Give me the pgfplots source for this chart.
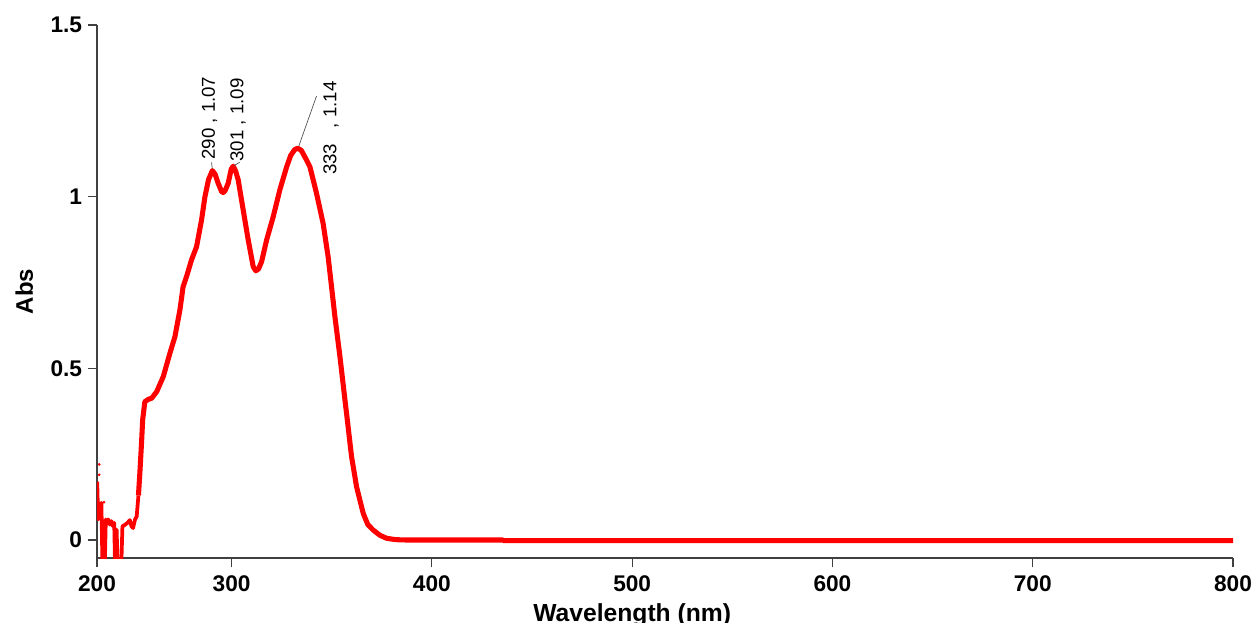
\documentclass[border=0pt]{standalone}
\usepackage{fontspec}
\setmainfont{Liberation Sans}
\usepackage{pgfplots}
\pgfplotsset{compat=1.18}

\definecolor{axisgray}{HTML}{404040}

\begin{document}
\begin{tikzpicture}
  \begin{axis}[
    name=ax,
    scale only axis,
    width=852pt, height=399.75pt,
    xmin=232.8, xmax=800,
    ymin=-0.0524, ymax=1.5,
    axis lines=left,
    axis line style={-, axisgray, line width=0.8pt},
    tick align=outside,
    major tick length=7pt,
    tick style={axisgray, line width=0.8pt},
    xtick={232.8,300,400,500,600,700,800},
    xticklabels={200,300,400,500,600,700,800},
    ytick={0,0.5,1,1.5},
    yticklabels={0,0.5,1,1.5},
    /pgf/number format/assume math mode=true,
    ticklabel style={font=\fontsize{17}{20}\selectfont\bfseries},
    xticklabel style={inner sep=0pt, yshift=-6pt},
    yticklabel style={inner sep=0pt, xshift=-4pt},
    xlabel={Wavelength (nm)},
    xlabel style={at={(rel axis cs:0.4711,0)}, anchor=base, yshift=-47.25pt,
      font=\fontsize{18.5}{22}\selectfont\bfseries},
    ylabel={Abs},
    ylabel style={at={(rel axis cs:-0.0639,0.5)}, anchor=center, rotate=0,
      font=\fontsize{18}{22}\selectfont\bfseries},
  ]
    % noisy start of the spectrum
    \addplot[red, line width=2.8pt, line join=round] coordinates {
      (232.9,0.17) (233.4,0.06) (234.0,0.10) (235.0,0.108) (235.6,-0.1)
      (236.6,-0.1) (237.2,0.06) (237.8,0.05) (238.4,0.06) (239.2,0.045)
      (240.0,0.055) (240.8,0.04) (241.4,0.05) (241.9,-0.1) (242.6,0.03)
      (243.2,-0.1) (244.8,-0.1) (245.5,0.04) (246.7,0.044) (248.0,0.05)
      (249.2,0.058) (250.0,0.04) (250.8,0.035) (251.8,0.06) (252.6,0.068)
      (253.5,0.13)
    };
    \addplot[red, only marks, mark=*, mark size=0.8pt] coordinates {
      (233.9,0.22) (233.9,0.19) (236.3,0.11)
    };
    % main band
    \addplot[red, line width=3.8pt, line join=round] coordinates {
      (253.5,0.13) (254.2,0.195) (255.1,0.29) (255.6,0.35) (256.7,0.403)
      (258.5,0.41) (260.1,0.413) (262.6,0.432) (265.9,0.476) (269.2,0.544)
      (271.7,0.592) (274.2,0.670) (275.8,0.738) (277.5,0.767) (280.0,0.816)
      (282.5,0.854) (285.0,0.932) (286.7,1.0) (288.5,1.05) (290.4,1.076)
      (291.8,1.065) (293.3,1.039) (295.0,1.015) (295.8,1.012) (296.8,1.018)
      (298.3,1.039) (299.8,1.08) (300.8,1.089) (302.0,1.075) (303.3,1.049)
      (305.8,0.961) (308.3,0.874) (310.8,0.796) (312.1,0.784) (313.5,0.79)
      (315.0,0.811) (317.5,0.874) (320.8,0.942) (324.1,1.020) (327.5,1.087)
      (329.5,1.12) (331.5,1.137) (333.0,1.141) (334.8,1.135) (337.4,1.107)
      (339.1,1.087) (342.4,1.010) (345.7,0.922) (348.2,0.825) (349.9,0.738)
      (351.6,0.650) (354.1,0.534) (356.6,0.408) (357.4,0.369) (359.9,0.243)
      (362.4,0.155) (365.7,0.078) (368.0,0.045) (370.7,0.029) (374.0,0.014)
      (377.4,0.005) (382.0,0.001) (387.4,0.0) (435.5,0.0) (435.6,-0.002)
      (800,-0.002)
    };
    % peak labels
    \draw[gray!60!black, line width=0.5pt] (axis cs:290.4,1.08) -- (axis cs:290.0,1.10);
    \draw[gray!60!black, line width=0.5pt] (axis cs:301.2,1.09) -- (axis cs:304.0,1.10);
    \draw[gray!60!black, line width=0.5pt] (axis cs:333.6,1.148) -- (axis cs:342.4,1.293);
    \node[rotate=90, anchor=base west, inner sep=0pt, font=\fontsize{14}{16}\selectfont]
      at (axis cs:291.7,1.107) {290 , 1.07};
    \node[rotate=90, anchor=base west, inner sep=0pt, font=\fontsize{14}{16}\selectfont]
      at (axis cs:305.9,1.102) {301 , 1.09};
    \node[rotate=90, anchor=base west, inner sep=0pt, font=\fontsize{14}{16}\selectfont]
      at (axis cs:352.3,1.063) {333\ \ \ , 1.14};
  \end{axis}
  \pgfresetboundingbox
  \path ([xshift=-72.75pt,yshift=-48pt]ax.south west)
    rectangle ([xshift=17.25pt,yshift=18.75pt]ax.north east);
\end{tikzpicture}
\end{document}
